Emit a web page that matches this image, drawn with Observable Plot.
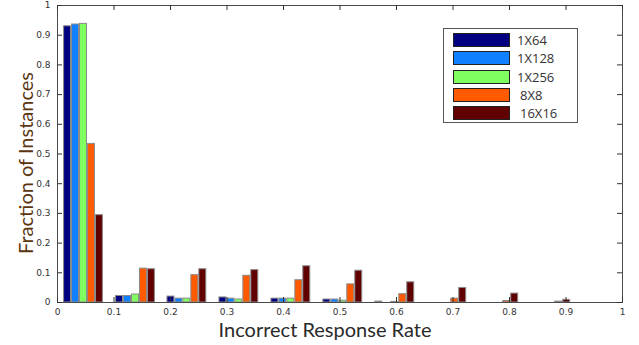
<!DOCTYPE html>
<html>
<head>
<meta charset="utf-8">
<script src="https://cdn.jsdelivr.net/npm/d3@7"></script>
<script src="https://cdn.jsdelivr.net/npm/@observablehq/plot@0.6"></script>
<style>
  html, body { margin: 0; padding: 0; background: #fff; }
  #wrap { position: relative; width: 639px; height: 345px; }
  #legend { position: absolute; left: 443px; top: 28px; width: 133px; height: 93px;
            border: 1px solid #555; background: #fff; box-sizing: content-box; }
  .row { position: absolute; left: 9px; height: 14px; }
  .sw { position: absolute; left: 0; top: 0; width: 55px; height: 12px; border: 1px solid #222; }
  .lab { position: absolute; left: 64px; top: -2px; font: 13px "Open Sans", sans-serif; color: #333; white-space: nowrap; }
</style>
</head>
<body>
<div id="wrap"></div>
<script>
// ---- data ----
const seriesNames = ["1X64", "1X128", "1X256", "8X8", "16X16"];
const seriesColors = ["#000080", "#0f80ff", "#80ff60", "#ff5a00", "#600000"];
const binCenters = [0.046, 0.138, 0.229, 0.321, 0.413, 0.505, 0.597, 0.689, 0.781, 0.873, 0.965];
const s1X64  = [0.930, 0.022, 0.020, 0.017, 0.013, 0.010, 0.003, 0, 0, 0, 0];
const s1X128 = [0.936, 0.022, 0.013, 0.013, 0.013, 0.010, 0, 0, 0, 0, 0];
const s1X256 = [0.938, 0.027, 0.013, 0.010, 0.013, 0.006, 0.002, 0, 0, 0, 0];
const s8X8   = [0.534, 0.114, 0.092, 0.090, 0.075, 0.061, 0.028, 0.013, 0.005, 0.003, 0];
const s16X16 = [0.294, 0.112, 0.112, 0.109, 0.122, 0.107, 0.068, 0.049, 0.030, 0.009, 0];
const xTicks = [0, 0.1, 0.2, 0.3, 0.4, 0.5, 0.6, 0.7, 0.8, 0.9, 1];
const yTicks = [0, 0.1, 0.2, 0.3, 0.4, 0.5, 0.6, 0.7, 0.8, 0.9, 1];
const xLabel = "Incorrect Response Rate";
const yLabel = "Fraction of Instances";

// ---- build rows ----
const allSeries = [s1X64, s1X128, s1X256, s8X8, s16X16];
const barW = 0.0141; // width of one bar within a group, in x units
const rows = [];
allSeries.forEach((vals, si) => {
  vals.forEach((v, bi) => {
    if (v > 0) {
      const x1 = binCenters[bi] + (si - 2.5) * barW;
      rows.push({series: seriesNames[si], x1, x2: x1 + barW, value: v});
    }
  });
});

const fmt = d => d === 0 ? "0" : d === 1 ? "1" : d.toFixed(1);

const chart = Plot.plot({
  width: 639,
  height: 345,
  marginLeft: 57,
  marginRight: 17,
  marginTop: 5,
  marginBottom: 43,
  style: {background: "#fff", fontFamily: "DejaVu Sans, sans-serif", overflow: "visible"},
  x: {domain: [0, 1], axis: null},
  y: {domain: [0, 1], axis: null},
  color: {domain: seriesNames, range: seriesColors},
  marks: [
    Plot.rect(rows, {x1: "x1", x2: "x2", y1: 0, y2: "value", fill: "series",
      stroke: "#8a8a8a", strokeWidth: 1, insetLeft: 0.5, insetRight: 0.5}),
    Plot.frame({stroke: "#4a4a4a", strokeWidth: 1}),
    Plot.tickX(xTicks, {x: d => d, insetTop: 292, stroke: "#333"}),
    Plot.tickX(xTicks, {x: d => d, insetBottom: 292, stroke: "#333"}),
    Plot.tickY(yTicks, {y: d => d, insetRight: 560, stroke: "#333"}),
    Plot.tickY(yTicks, {y: d => d, insetLeft: 560, stroke: "#333"}),
    Plot.axisX(xTicks, {tickSize: 0, tickPadding: 6, tickFormat: fmt, fontSize: 9, fill: "#333", label: null}),
    Plot.axisY(yTicks, {tickSize: 0, tickPadding: 7, tickFormat: fmt, fontSize: 9, fill: "#333", label: null}),
    Plot.text([xLabel], {text: d => d, frameAnchor: "bottom", lineAnchor: "middle", textAnchor: "middle",
      dx: -15, dy: 28, fontSize: 20, fontFamily: "Lato, sans-serif", fill: "#2a2a2a"}),
    Plot.text([yLabel], {text: d => d, frameAnchor: "left", textAnchor: "middle", lineAnchor: "middle",
      rotate: -90, dx: -31, dy: 9, fontSize: 20, fontFamily: "Lato, sans-serif", fill: "#5a3510"})
  ]
});

const wrap = document.getElementById("wrap");
wrap.appendChild(chart);

// legend
const legend = document.createElement("div");
legend.id = "legend";
seriesNames.forEach((name, i) => {
  const row = document.createElement("div");
  row.className = "row";
  row.style.top = (4 + i * 18.3) + "px";
  const sw = document.createElement("div");
  sw.className = "sw";
  sw.style.background = seriesColors[i];
  const lab = document.createElement("div");
  lab.className = "lab";
  lab.textContent = name;
  if (i >= 3) lab.style.left = "67px";
  row.appendChild(sw);
  row.appendChild(lab);
  legend.appendChild(row);
});
wrap.appendChild(legend);
</script>
</body>
</html>
